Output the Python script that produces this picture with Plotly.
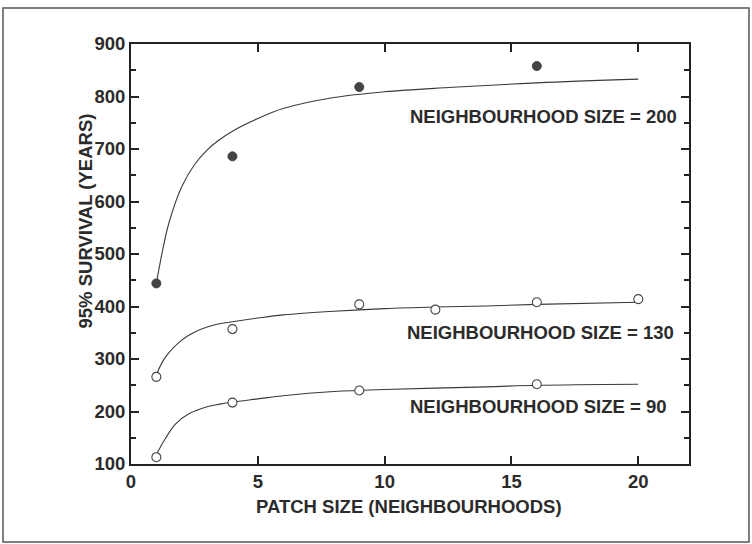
import plotly.graph_objects as go

# Observed points
patch_200 = [1, 4, 9, 16]
surv_200 = [444, 686, 818, 858]
patch_130 = [1, 4, 9, 12, 16, 20]
surv_130 = [266, 357, 404, 394, 408, 414]
patch_90 = [1, 4, 9, 16]
surv_90 = [113, 217, 240, 252]

# Fitted curves
fit_x_200 = [1, 1.25, 1.5, 2, 2.5, 3, 3.5, 4, 5, 6, 8, 10, 12.5, 16, 20]
fit_y_200 = [444, 508, 560, 628, 670, 698, 718, 734, 758, 777, 798, 809, 817, 826, 833]
fit_x_130 = [1, 1.35, 2, 2.5, 3, 3.5, 4, 5, 6, 8, 10, 12, 14, 16, 20]
fit_y_130 = [270, 303, 336, 351, 361, 367, 371, 378, 384, 391, 396, 399, 401, 404, 408]
fit_x_90 = [1, 1.35, 1.75, 2.3, 3, 3.5, 4, 5, 6, 8, 10, 14, 16, 20]
fit_y_90 = [118, 148, 176, 196, 209, 214, 218, 224, 230, 238, 242, 247, 250, 252]

x_ticks = [0, 5, 10, 15, 20]
y_ticks = [100, 200, 300, 400, 500, 600, 700, 800, 900]
labels = ["NEIGHBOURHOOD SIZE = 200", "NEIGHBOURHOOD SIZE = 130", "NEIGHBOURHOOD SIZE = 90"]

INK = "#2b2b2b"
FONT = "Liberation Sans"

fig = go.Figure()
for fx, fy in [(fit_x_200, fit_y_200), (fit_x_130, fit_y_130), (fit_x_90, fit_y_90)]:
    fig.add_trace(go.Scatter(x=fx, y=fy, mode="lines",
                             line=dict(color="#3a3a3a", width=1.1, shape="spline", smoothing=1.0),
                             showlegend=False, hoverinfo="skip"))

fig.add_trace(go.Scatter(x=patch_200, y=surv_200, mode="markers",
                         marker=dict(size=9, color="#444444", line=dict(color="#444444", width=1)), showlegend=False))
for px, py in [(patch_130, surv_130), (patch_90, surv_90)]:
    fig.add_trace(go.Scatter(x=px, y=py, mode="markers",
                             marker=dict(size=9, color="white", line=dict(color="#444444", width=1.1)), showlegend=False))

ann_font = dict(family=FONT, size=18.5, color=INK, weight="bold")
ann_pos = [(21.6, 762), (21.47, 351), (21.18, 210)]
annotations = []
for txt, (ax, ay) in zip(labels, ann_pos):
    annotations.append(dict(x=ax, y=ay, xref="x", yref="y", text=txt, showarrow=False,
                            xanchor="right", yanchor="middle", font=ann_font))
annotations.append(dict(x=-0.082, y=0.578, xref="paper", yref="paper", text="95% SURVIVAL (YEARS)",
                        textangle=-90, showarrow=False, xanchor="center", yanchor="middle", font=ann_font))
annotations.append(dict(x=0.499, y=-0.101, xref="paper", yref="paper", text="PATCH SIZE (NEIGHBOURHOODS)",
                        showarrow=False, xanchor="center", yanchor="middle", font=ann_font))

axis_common = dict(showgrid=False, zeroline=False, showline=True, linecolor="#222222", linewidth=2,
                   mirror="ticks", ticks="inside", tickcolor="#222222", tickwidth=1.5, ticklen=8,
                   tickfont=dict(family=FONT, size=18.5, color=INK, weight="bold"))

fig.update_layout(
    width=752, height=544,
    margin=dict(l=131, r=63, t=44, b=80),
    paper_bgcolor="white", plot_bgcolor="white",
    xaxis=dict(range=[0, 22], tickvals=x_ticks, ticktext=[str(v) for v in x_ticks], **axis_common),
    yaxis=dict(range=[100, 900], tickvals=y_ticks, ticktext=[str(v) for v in y_ticks],
               minor=dict(ticks="inside", ticklen=5, tickcolor="#222222", tickwidth=1.5, dtick=50, tick0=50, showgrid=False),
               **axis_common),
    annotations=annotations,
    shapes=[dict(type="rect", xref="paper", yref="paper", x0=-0.2294, x1=1.1075, y0=-0.1857, y1=1.0857,
                 line=dict(color="#555555", width=1.5), fillcolor="rgba(0,0,0,0)")],
)

fig.write_html("out.html", config={"displayModeBar": False},
               post_script="document.body.style.margin='0';")
